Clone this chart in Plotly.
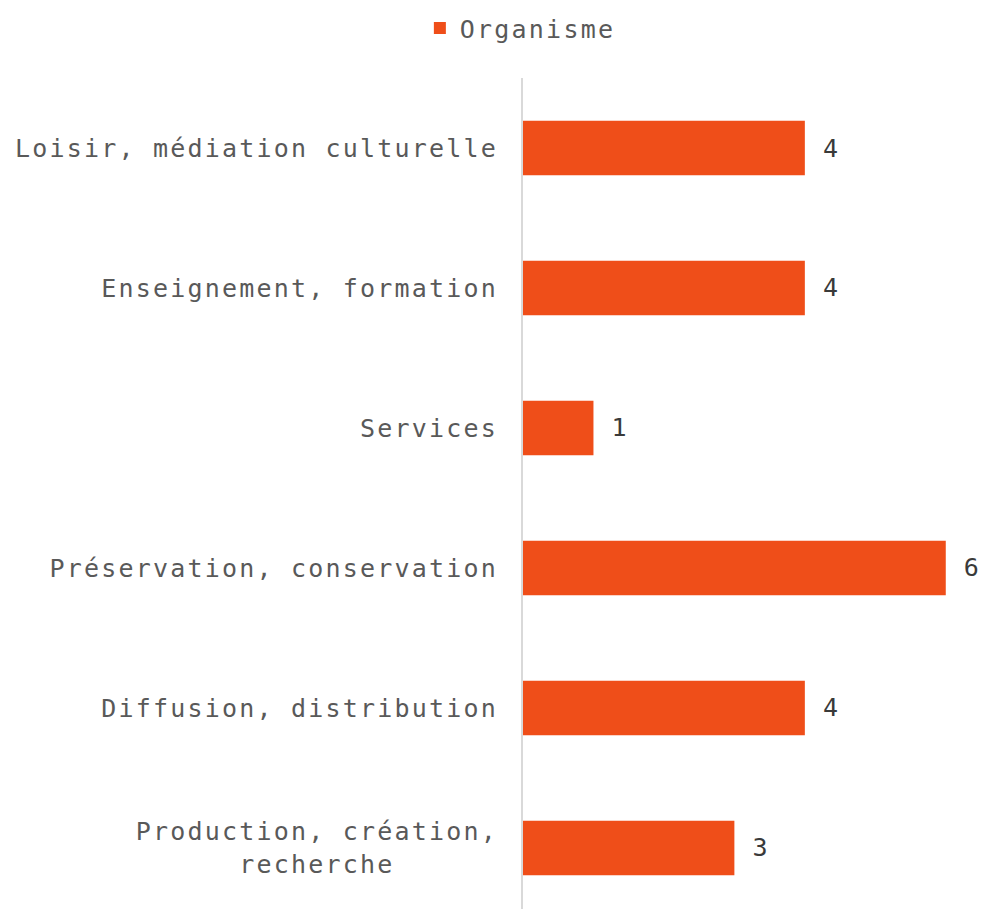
import plotly.graph_objects as go

# Categories listed bottom-to-top (Plotly draws the first category at the bottom)
categories = [
    "Production, création,<br>recherche\u00a0\u00a0\u00a0\u00a0\u00a0\u00a0",
    "Diffusion, distribution",
    "Préservation, conservation",
    "Services",
    "Enseignement, formation",
    "Loisir, médiation culturelle",
]
values = [3, 4, 6, 1, 4, 4]
series_name = "Organisme"

BAR_COLOR = "#EF4E19"
LABEL_FONT = "DejaVu Sans Mono"

fig = go.Figure(
    go.Bar(
        x=values,
        y=categories,
        orientation="h",
        name=series_name,
        marker=dict(color=BAR_COLOR, line=dict(width=0)),
        width=0.39,
        text=values,
        texttemplate="\u00a0%{text}",
        textposition="outside",
        textfont=dict(family=LABEL_FONT, size=25, color="#3A3A3A"),
        cliponaxis=False,
        showlegend=True,
    )
)

fig.update_layout(
    width=981,
    height=909,
    margin=dict(l=523, r=0, t=78, b=0),
    paper_bgcolor="white",
    plot_bgcolor="white",
    showlegend=True,
    legend=dict(
        orientation="h",
        xref="container",
        yref="container",
        x=0.428,
        y=0.969,
        xanchor="left",
        yanchor="middle",
        font=dict(family=LABEL_FONT, size=25, color="#595959"),
        itemwidth=30,
        entrywidth=220,
    ),
    xaxis=dict(
        range=[0, 6.5],
        showticklabels=False,
        showgrid=False,
        zeroline=False,
        showline=False,
    ),
    yaxis=dict(
        type="category",
        categoryorder="array",
        categoryarray=categories,
        range=[-0.436, 5.5],
        showgrid=False,
        zeroline=False,
        showline=True,
        linecolor="#D9D9D9",
        linewidth=2,
        ticks="",
        ticklabelstandoff=18,
        tickfont=dict(family=LABEL_FONT, size=25, color="#595959"),
    ),
)

# Widen the letter spacing of the category and legend texts
post = """
var gd = document.getElementById('{plot_id}');
function spacing() {
  gd.querySelectorAll('.ytick text, .legendtext').forEach(function (t) {
    t.style.letterSpacing = '2.2px';
  });
}
spacing();
gd.on('plotly_afterplot', spacing);
"""

fig.write_html("out.html", post_script=post)
